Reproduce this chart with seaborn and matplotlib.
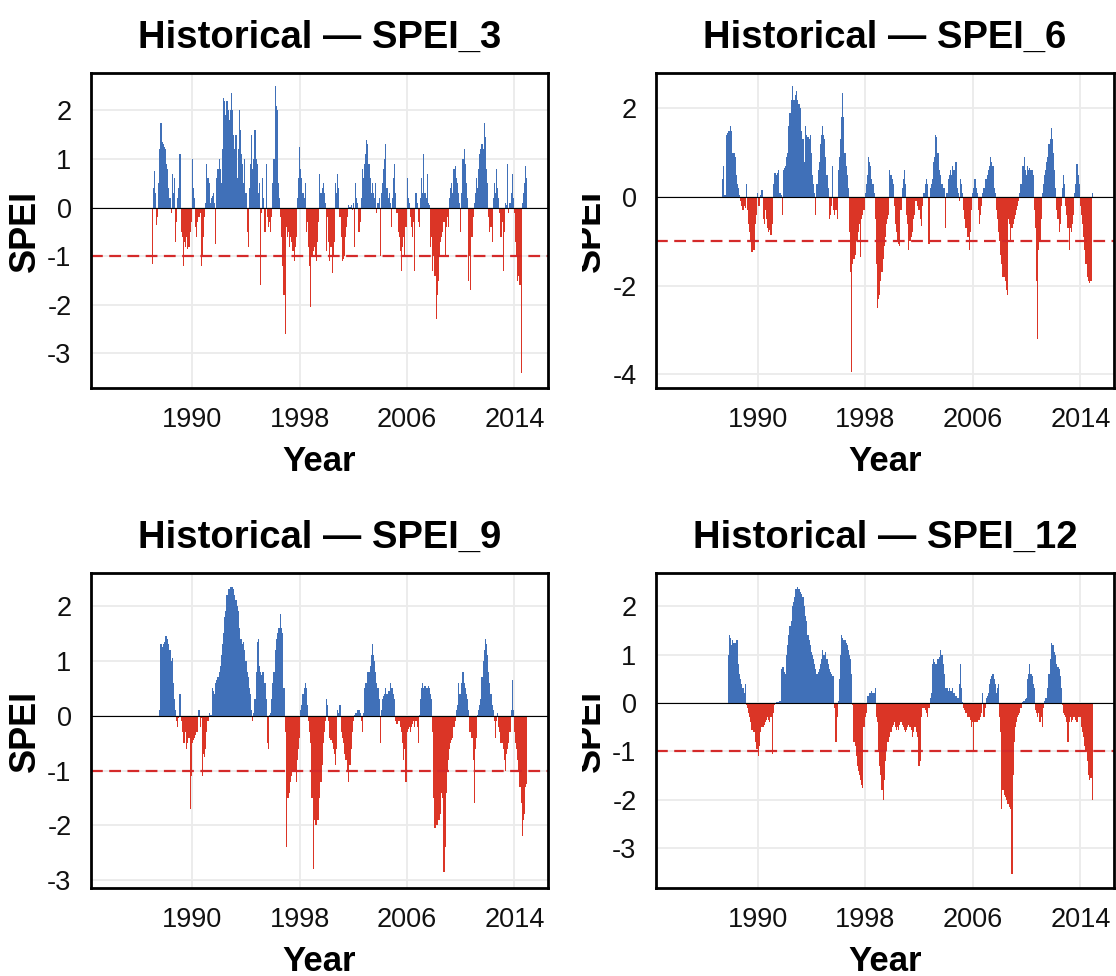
import numpy as np
import pandas as pd
import matplotlib
matplotlib.use("Agg")
import matplotlib.pyplot as plt
from matplotlib.transforms import Bbox, TransformedBbox
import seaborn as sns

nan = np.nan

# Monthly time axis, Jan 1987 - Dec 2014
months = pd.date_range("1987-01-01", "2014-12-01", freq="MS")

# SPEI values, one row per year (Jan..Dec)
spei_3 = [
    -1.15, 0.4, 0.75, 0.3, -0.35, -0.2, 0.5, 1.2, 1.75, 1.35, 1.3, 1.25,
    1.2, 0.9, 0.8, 0.4, 0.2, -0.1, 0.7, 0.3, 0.6, -0.7, -0.3, 0.2,
    0.4, 1.1, -0.5, -0.6, -1.2, -0.7, -0.8, -0.6, -0.85, -0.8, -0.5, -0.3,
    1.0, 0.4, 0.2, -0.4, -0.6, -0.3, -0.2, -0.1, -1.2, -1.0, -0.6, -0.2,
    0.1, 0.9, 0.6, 0.5, 0.1, 0.2, 0.25, 0.3, 0.1, -0.75, 0.6, 0.8,
    1.0, 0.8, 0.5, 1.2, 2.25, 2.2, 1.9, 2.2, 2.0, 1.8, 2.0, 2.35,
    2.0, 1.5, 1.2, 1.5, 0.6, 1.2, 2.0, 1.6, 1.1, 0.9, 0.5, 1.0,
    0.3, -0.5, -0.8, 0.4, 0.9, 1.5, 0.8, 1.0, 1.6, 1.0, 0.9, 0.3,
    0.5, -1.6, -0.1, 0.6, 0.2, -0.5, 0.9, -0.2, -0.4, -0.3, -0.5, -0.2,
    0.5, 1.0, 2.5, 2.1, 2.0, 0.5, 0.2, -0.2, -0.6, -1.2, -1.8, -2.6,
    -0.4, -0.6, -0.5, -0.8, -0.6, -0.7, -0.9, -1.1, -0.8, -0.6, 0.2, 0.6,
    1.25, 0.8, 0.6, 0.3, 0.2, 0.5, -0.5, -0.3, -0.8, -1.2, -2.05, -1.0,
    -0.9, -0.8, -1.0, -1.1, -0.7, -0.3, 0.7, 0.3, 0.4, 0.5, 0.3, 0.1,
    -0.9, -0.2, -0.7, -1.1, -0.8, -1.35, -1.0, -0.7, 0.5, 0.3, 0.7, 0.4,
    -0.2, -0.6, -1.1, -1.05, -1.0, -0.6, -0.4, -0.2, 0.05, 0.02, 0.05, -0.05,
    0.1, -0.8, 0.5, 0.2, 0.1, -0.5, -0.3, 0.2, 0.8, 0.6, 0.9, 1.1,
    1.4, 1.3, 0.9, 0.6, 0.3, 0.5, 0.3, 0.2, 0.5, -0.1, 0.1, 0.2,
    -1.0, 0.3, 0.5, 0.8, 1.0, 1.3, 0.4, 0.2, 0.3, 0.1, -0.4, 0.2,
    0.6, 0.9, 0.3, -0.1, -0.5, -0.6, -0.9, -1.3, -0.8, -0.6, -1.0, -0.4,
    0.6, 0.2, 0.1, -0.2, -0.4, -0.6, -0.3, -1.3, 0.3, 0.1, -0.3, -0.4,
    0.2, 0.6, 0.3, 1.1, 0.3, 0.2, 0.7, 0.1, 0.05, -0.8, -0.6, -1.3,
    -1.0, -1.4, -2.3, -1.8, -1.5, -1.0, -0.7, -0.6, -0.5, -0.3, -1.0, -0.4,
    -0.2, -0.4, 0.2, 0.4, 0.5, 0.3, 0.8, 0.85, 0.6, 0.5, 0.3, 0.1,
    -0.5, 0.3, 1.0, 1.2, 0.9, 0.5, 0.2, -1.5, -1.0, -1.7, -0.6, -0.2,
    0.1, 0.3, 0.6, 0.4, 0.8, 1.1, 1.2, 1.3, 1.2, 1.75, 1.45, 0.8,
    0.5, -0.2, -0.5, -0.4, -0.7, 0.2, 0.5, 0.3, 0.8, 0.4, 0.2, -0.1,
    -0.6, -0.3, -1.3, -0.5, 0.1, 0.05, 0.9, -0.1, 0.1, 0.3, 0.7, 0.2,
    -0.1, -0.7, -1.0, -1.5, -1.4, -1.6, -3.4, 0.1, 0.3, 0.5, 0.85, 0.6,
]

spei_6 = [
    nan, nan, nan, nan, nan, 0.4, 0.7, 0.05, 1.4, 1.45, 1.5, 1.5,
    1.6, 1.5, 1.0, 1.0, 0.9, 0.5, 0.3, 0.2, 0.05, -0.1, -0.2, -0.3,
    -0.2, -0.25, 0.3, -0.3, -0.6, -0.8, -1.0, -1.25, -1.2, -1.2, -0.6, -0.4,
    0.1, -0.2, -0.2, 0.05, 0.15, -0.5, -0.6, -0.3, -0.5, -0.7, -0.8, -0.75,
    -0.85, -0.6, 0.3, 0.55, 0.55, 0.5, 0.55, 0.6, 0.1, 0.05, -0.4, 0.6,
    0.65, 0.7, 0.9, 1.0, 1.6, 1.9, 2.2, 2.5, 2.2, 2.2, 2.3, 2.4,
    2.2, 2.1, 2.0, 1.5, 1.3, 1.3, 0.8, 1.6, 1.4, 1.35, 1.3, 1.4,
    1.0, 0.5, 0.3, 0.1, -0.4, 0.3, 0.6, 0.8, 1.2, 1.4, 1.6, 1.4,
    1.3, 0.9, 0.5, 0.2, -0.5, -0.4, -0.2, 0.7, -0.3, -0.4, -0.3, -0.5,
    0.6, 0.9, 1.3, 1.8, 2.35, 1.8, 1.0, 0.7, 0.5, 0.2, -0.8, -1.7,
    -3.95, -1.5, -1.4, -1.3, -1.0, -1.0, -0.8, -0.6, -1.35, -0.5, -0.4, -0.3,
    0.1, 0.3, 0.5, 0.9, 0.8, 0.7, 0.4, 0.3, 0.1, -0.5, -1.5, -2.5,
    -2.3, -2.2, -1.9, -1.7, -1.4, -1.1, -0.9, -0.6, -0.5, -0.4, 0.6, 0.5,
    0.4, 0.3, -0.2, -0.6, -0.8, -1.0, -1.05, -1.1, -0.3, 0.2, 0.4, 0.6,
    0.3, -0.4, -0.6, -1.2, -1.0, -0.9, -0.8, -0.5, -0.4, -0.1, -0.1, -0.2,
    -0.3, -0.5, -0.65, -0.2, 0.1, 0.1, 0.3, 0.4, 0.3, -1.05, 0.2, 0.3,
    0.4, 0.8, 0.9, 1.4, 1.35, 1.0, 0.6, 0.5, 0.3, 0.3, 0.2, 0.2,
    -0.7, 0.1, 0.4, 0.5, 0.6, 0.5, 0.7, 0.6, 0.6, 0.8, 0.2, 0.1,
    -0.1, 0.4, 0.3, 0.1, -0.3, -0.5, -0.7, -0.9, -0.9, -1.2, -0.8, -0.3,
    0.1, 0.2, 0.4, 0.2, 0.1, -0.3, -0.6, -0.4, -0.2, 0.1, 0.2, 0.4,
    0.4, 0.5, 0.6, 0.7, 0.9, 0.8, 0.7, 0.2, 0.1, -0.3, -0.5, -0.8,
    -1.0, -1.3, -1.5, -1.8, -1.8, -1.9, -2.1, -2.2, -0.5, -0.6, -1.0, -0.7,
    -0.6, -0.5, -0.4, -0.3, -0.2, -0.1, 0.1, 0.3, 0.7, 0.7, 0.9, 0.6,
    0.5, 0.7, 0.6, 0.65, 0.6, 0.6, 0.5, -0.3, -0.7, -1.9, -3.2, -1.2,
    -1.0, -0.5, 0.1, 0.3, 0.5, 0.6, 0.8, 0.9, 1.2, 1.3, 1.55, 1.3,
    1.0, 0.6, 0.2, -0.3, -0.5, -0.8, -0.6, -0.2, 0.2, 0.5, 0.3, -0.2,
    -0.4, -0.7, -1.2, -0.7, -0.8, -0.6, -0.4, 0.1, 0.3, 0.75, 0.5, 0.3,
    -0.2, -0.4, -0.6, -0.9, -1.2, -1.5, -1.8, -1.9, -1.95, -1.9, -1.9, 0.1,
]

spei_9 = [
    nan, nan, nan, nan, nan, nan, nan, 0.1, 1.3, 1.25, 1.3, 1.35,
    1.45, 1.45, 1.4, 1.3, 1.2, 1.0, 1.05, 0.6, 0.3, 0.1, -0.1, -0.2,
    -0.05, 0.4, -0.1, -0.3, -0.5, -0.5, -0.3, -0.6, -0.5, -0.4, -1.7, -1.1,
    -0.5, -0.45, -0.4, -0.35, -0.3, -0.3, 0.1, -0.2, -0.05, -1.1, -0.7, -0.75,
    -0.6, -0.3, -0.1, 0.05, 0.02, 0.02, 0.5, 0.45, 0.4, 0.6, 0.65, 0.7,
    0.8, 0.9, 1.1, 1.3, 1.5, 1.8, 1.9, 2.2, 2.3, 2.3, 2.35, 2.35,
    2.35, 2.3, 2.2, 2.1, 2.0, 1.9, 1.6, 1.4, 1.4, 1.3, 1.35, 1.2,
    1.0, 0.8, 0.7, 0.5, 0.4, 0.1, -0.1, 0.05, 0.3, 0.8, 1.35, 1.4,
    0.9, 0.8, 0.75, 0.8, 0.8, 0.6, 0.3, -0.5, -0.6, 0.02, 0.05, 0.3,
    0.6, 0.8, 1.2, 1.4, 1.5, 1.6, 1.6, 1.85, 1.6, 1.5, 0.5, -0.3,
    -2.4, -1.5, -1.5, -1.4, -1.2, -1.1, -1.0, -1.0, -1.0, -1.2, -0.8, -0.6,
    -0.4, 0.1, 0.2, 0.4, 0.5, 0.6, 0.5, 0.2, -0.1, -0.3, -0.5, -1.5,
    -2.8, -1.9, -2.0, -2.0, -1.9, -1.9, -1.5, -1.2, -0.9, -0.5, -0.3, -0.1,
    0.3, 0.2, -0.1, -0.4, -0.45, -0.5, -0.6, -0.7, -0.9, -0.6, 0.1, 0.05,
    0.2, -0.3, -0.4, -0.5, -0.7, -0.8, -0.8, -1.0, -1.2, -0.9, -0.6, -0.3,
    -0.1, 0.02, 0.05, 0.05, 0.1, 0.1, 0.05, -0.1, -0.3, 0.05, 0.5, 0.6,
    0.6, 0.8, 0.8, 0.9, 1.1, 1.3, 1.1, 1.0, 0.8, 0.6, 0.5, 0.3,
    -0.5, 0.1, 0.3, 0.35, 0.4, 0.5, 0.4, 0.45, 0.45, 0.6, 0.5, 0.5,
    0.4, 0.3, -0.1, -0.15, -0.1, -0.1, -0.2, -0.3, -0.5, -0.8, -0.6, -1.2,
    -0.3, -0.25, -0.2, -0.3, -0.2, -0.15, -0.1, -0.2, -0.1, -0.2, -0.5, 0.02,
    0.3, 0.5, 0.6, 0.5, 0.55, 0.5, 0.5, 0.55, 0.5, 0.4, 0.3, -0.3,
    -1.5, -2.05, -2.0, -2.0, -1.9, -1.9, -1.8, -1.4, -1.5, -2.85, -2.4, -1.4,
    -1.0, -0.8, -0.6, -0.5, -0.45, -0.4, -0.2, -0.1, 0.1, 0.2, 0.6, 0.4,
    0.4, 0.6, 0.8, 0.6, 0.5, 0.4, 0.3, 0.1, -0.3, -0.3, -0.4, -0.8,
    -1.6, -0.6, -0.4, 0.02, 0.1, 0.2, 0.3, 0.7, 1.0, 1.2, 1.4, 1.3,
    1.1, 0.8, 0.6, 0.4, 0.2, 0.1, -0.1, -0.4, -0.1, 0.05, -0.2, -0.3,
    -0.5, -0.5, -0.6, -0.8, -1.0, -0.7, -0.6, -0.5, -0.3, 0.1, 0.65, 0.1,
    -0.3, -0.5, -0.6, -0.8, -1.0, -1.3, -1.6, -2.2, -1.9, -1.8, -1.3, -1.25,
]

spei_12 = [
    nan, nan, nan, nan, nan, nan, nan, nan, nan, nan, 1.0, 1.4,
    1.35, 1.2, 1.3, 1.25, 1.25, 1.3, 1.3, 0.8, 0.6, 0.5, 0.4, 0.3,
    0.2, 0.4, -0.05, -0.1, -0.2, -0.3, -0.4, -0.55, -0.6, -0.6, -0.8, -0.95,
    -0.95, -1.1, -0.9, -0.6, -0.5, -0.5, -0.45, -0.4, -0.35, -0.3, -0.35, -0.4,
    -0.3, -1.05, -0.2, -0.05, -0.02, 0.02, 0.02, 0.03, 0.05, 0.7, 0.75, 0.75,
    0.65, 0.6, 1.0, 1.2, 1.4, 1.6, 1.7, 2.0, 2.1, 2.2, 2.35, 2.35,
    2.4, 2.35, 2.3, 2.25, 2.2, 2.2, 2.0, 1.8, 1.7, 1.4, 1.3, 1.2,
    1.05, 1.0, 0.9, 0.8, 0.7, 0.6, 0.65, 0.7, 0.8, 0.9, 1.1, 1.0,
    1.0, 1.05, 0.9, 0.8, 0.7, 0.65, 0.6, 0.55, 0.55, -0.1, -0.8, -0.3,
    0.05, 0.5, 1.0, 1.4, 1.35, 1.3, 1.3, 1.25, 1.2, 1.1, 1.0, 0.9,
    0.6, -0.05, -0.8, -0.9, -1.1, -1.3, -1.4, -1.5, -1.6, -1.7, -1.75, -0.5,
    -0.3, -0.2, 0.15, 0.15, 0.2, 0.2, 0.25, 0.2, 0.2, 0.3, -0.3, -0.4,
    -1.0, -1.3, -1.5, -1.8, -2.0, -1.6, -1.2, -1.0, -0.8, -0.8, -0.7, -0.6,
    -0.5, -0.45, -0.4, -0.5, -0.55, -0.5, -0.55, -0.45, -0.4, -0.45, -0.5, -0.55,
    -0.6, -0.55, -0.5, -0.45, -0.5, -0.55, -0.7, -0.6, -0.5, -0.5, -0.6, -0.7,
    -1.3, -1.2, -0.3, -0.1, -0.1, -0.1, -0.15, -0.2, -0.3, -0.1, 0.1, 0.2,
    0.8, 0.9, 0.85, 0.8, 0.8, 0.9, 0.95, 1.1, 1.0, 1.0, 0.8, 0.6,
    0.3, 0.3, 0.25, 0.3, 0.25, 0.25, 0.3, 0.2, 0.2, 0.15, 0.1, 0.1,
    0.4, 0.8, 0.3, 0.02, -0.1, -0.15, -0.2, -0.3, -0.3, -0.3, -0.35, -0.5,
    -0.4, -1.0, -0.4, -0.4, -0.4, -0.35, -0.35, -0.3, -0.2, 0.2, -0.3, -0.1,
    0.1, 0.15, 0.2, 0.4, 0.5, 0.55, 0.6, 0.5, 0.4, 0.2, 0.3, 0.4,
    -0.3, -0.6, -2.2, -1.8, -1.9, -1.95, -2.0, -2.1, -2.1, -2.15, -2.2, -3.55,
    -1.5, -0.8, -0.5, -0.4, -0.3, -0.25, -0.2, -0.1, 0.02, 0.05, 0.05, 0.08,
    0.1, 0.5, 0.6, 0.8, 0.6, 0.55, 0.4, 0.3, -0.15, -0.2, -0.3, -0.2,
    -0.4, -0.3, -0.5, -0.1, 0.05, 0.1, 0.1, 0.3, 0.6, 0.9, 1.25, 1.2,
    1.2, 1.05, 1.0, 0.8, 0.75, 0.7, 0.55, 0.3, -0.05, -0.2, -0.25, -0.3,
    -0.4, -0.8, -0.4, -0.3, -0.4, -0.35, -0.3, -0.3, -0.35, -0.4, -0.3, -0.3,
    -0.3, -0.5, -0.6, -0.7, -0.9, -1.0, -1.2, -1.5, -1.6, -1.55, -1.55, -2.0,
]

titles = ["Historical — SPEI_3", "Historical — SPEI_6",
          "Historical — SPEI_9", "Historical — SPEI_12"]
series = [spei_3, spei_6, spei_9, spei_12]
year_ticks = [1990, 1998, 2006, 2014]
y_ticks = [[-3, -2, -1, 0, 1, 2], [-4, -2, 0, 2],
           [-3, -2, -1, 0, 1, 2], [-3, -2, -1, 0, 1, 2]]
drought_threshold = -1

# Panel layout (figure fractions) and value ranges
W, H = 1116, 976
axes_rects = [
    (91 / W, 1 - 388 / H, 457 / W, 315 / H),
    (656 / W, 1 - 388 / H, 458 / W, 315 / H),
    (91 / W, 1 - 888 / H, 457 / W, 315 / H),
    (656 / W, 1 - 888 / H, 458 / W, 315 / H),
]
y_limits = [(-3.71, 2.77), (-4.31, 2.80), (-3.14, 2.60), (-3.83, 2.69)]
x_limits = (1982.45, 2016.5)

WET = "#4070B8"
DRY = "#DB3526"
THRESH = "#D42A2A"

sns.set_theme(style="whitegrid")
plt.rcParams["font.family"] = ["Liberation Sans", "DejaVu Sans"]

fig = plt.figure(figsize=(W / 100, H / 100), dpi=100, facecolor="white")

decimal_year = months.year + (months.month - 1) / 12.0

for i, (title, vals) in enumerate(zip(titles, series)):
    ax = fig.add_axes(axes_rects[i])
    df = pd.DataFrame({"t": decimal_year, "spei": vals}).dropna()
    df["phase"] = np.where(df["spei"] >= 0, "wet", "dry")

    sns.barplot(data=df, x="t", y="spei", hue="phase",
                palette={"wet": WET, "dry": DRY}, hue_order=["wet", "dry"],
                native_scale=True, dodge=False, width=1.0, errorbar=None,
                saturation=1, legend=False, linewidth=0, ax=ax, zorder=2)

    ax.axhline(0, color="black", lw=0.8, zorder=3)
    ax.axhline(drought_threshold, color=THRESH, lw=1.6,
               dashes=(5.3, 2.9), zorder=4)

    ax.set_xlim(*x_limits)
    ax.set_ylim(*y_limits[i])
    ax.set_xticks(year_ticks)
    ax.set_xticklabels([str(y) for y in year_ticks])
    ax.set_yticks(y_ticks[i])
    ax.set_yticklabels([str(v) for v in y_ticks[i]])
    ax.tick_params(axis="both", length=0, pad=14, labelsize=19.5,
                   labelcolor="#111111")

    ax.grid(True, color="#EBEBEB", lw=1.3)
    ax.set_axisbelow(True)
    ax.set_facecolor("white")
    for sp in ax.spines.values():
        sp.set_visible(True)
        sp.set_color("black")
        sp.set_linewidth(2.0)
        sp.set_zorder(5)

    ax.set_title(title, fontsize=27.5, fontweight="bold", pad=18,
                 color="black")
    ax.set_xlabel("Year", fontsize=25, fontweight="bold", color="black")
    ax.set_ylabel("SPEI", fontsize=26, fontweight="bold", color="black")
    ax.xaxis.set_label_coords(0.5, -0.181)
    ax.yaxis.set_label_coords(-0.105, 0.5)

    if i % 2 == 1:
        lab = ax.yaxis.label
        lab.set_clip_on(True)
        lab.set_clip_box(TransformedBbox(Bbox([[582 / W, 0], [1, 1]]),
                                         fig.transFigure))

fig.savefig("out.png", dpi=100, facecolor="white")
